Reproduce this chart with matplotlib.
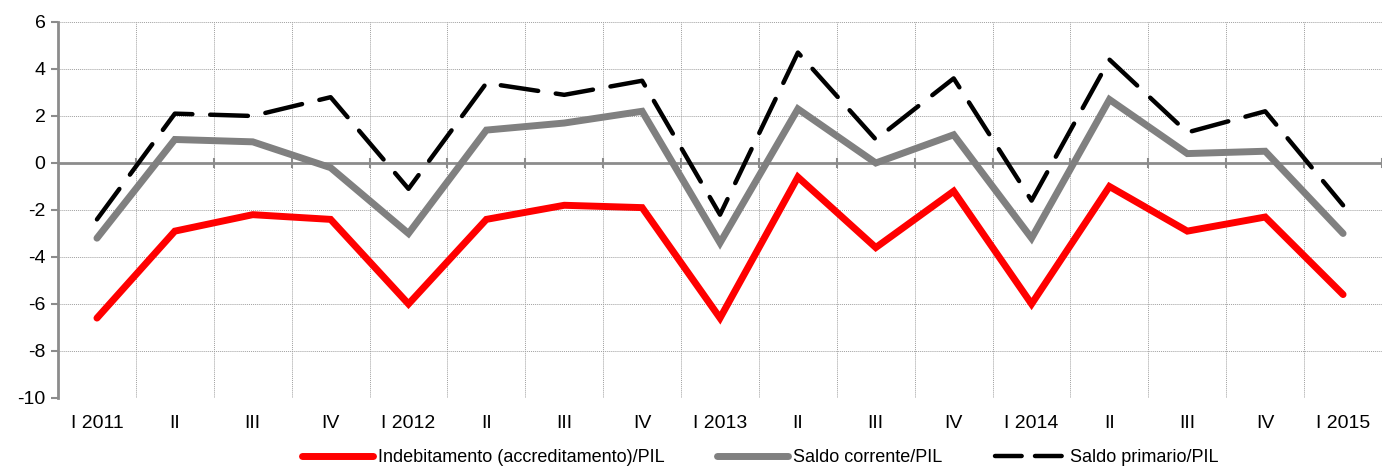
import matplotlib
matplotlib.use("Agg")
import matplotlib.pyplot as plt
from matplotlib.lines import Line2D

# ── Data ────────────────────────────────────────────────────────────────
quarters = ["I 2011", "II", "III", "IV", "I 2012", "II", "III", "IV",
            "I 2013", "II", "III", "IV", "I 2014", "II", "III", "IV", "I 2015"]

indebitamento = [-6.6, -2.9, -2.2, -2.4, -6.0, -2.4, -1.8, -1.9,
                 -6.6, -0.6, -3.6, -1.2, -6.0, -1.0, -2.9, -2.3, -5.6]
saldo_corrente = [-3.2, 1.0, 0.9, -0.2, -3.0, 1.4, 1.7, 2.2,
                  -3.4, 2.3, 0.0, 1.2, -3.2, 2.7, 0.4, 0.5, -3.0]
saldo_primario = [-2.4, 2.1, 2.0, 2.8, -1.1, 3.4, 2.9, 3.5,
                  -2.2, 4.7, 1.0, 3.6, -1.6, 4.4, 1.3, 2.2, -1.8]

series_labels = ["Indebitamento (accreditamento)/PIL",
                 "Saldo corrente/PIL",
                 "Saldo primario/PIL"]

# ── Style ───────────────────────────────────────────────────────────────
plt.rcParams["font.family"] = ["Liberation Sans Narrow", "Liberation Sans", "DejaVu Sans"]
plt.rcParams["axes.unicode_minus"] = False
AXIS_GREY = "#8c8c8c"
GRID_GREY = "#a0a0a0"

fig = plt.figure(figsize=(13.88, 4.66), dpi=100)
ax = fig.add_axes([0.0418, 0.146, 0.9539, 0.8068])

x = list(range(len(quarters)))
ax.plot(x, indebitamento, color="#ff0000", lw=5.0, solid_capstyle="round",
        solid_joinstyle="miter", zorder=4, label=series_labels[0])
ax.plot(x, saldo_corrente, color="#808080", lw=5.0, solid_capstyle="round",
        solid_joinstyle="miter", zorder=3, label=series_labels[1])
ax.plot(x, saldo_primario, color="black", lw=3.2, dashes=(8.5, 4),
        dash_capstyle="round", zorder=5, label=series_labels[2])

ax.set_xlim(-0.5, len(quarters) - 0.5)
ax.set_ylim(-10, 6)
ax.set_yticks(range(-10, 7, 2))

# grid: dotted, horizontal at each tick, vertical at category boundaries
for yv in range(-10, 7, 2):
    ax.axhline(yv, color=GRID_GREY, lw=0.7, ls=(0, (1, 1)), zorder=1)
for xb in range(len(quarters) + 1):
    ax.axvline(xb - 0.5, color=GRID_GREY, lw=0.7, ls=(0, (1, 1)), zorder=1)

# zero axis line with category tick marks
ax.axhline(0, color=AXIS_GREY, lw=2.0, zorder=2)
for xb in range(1, len(quarters) + 1):
    ax.plot([xb - 0.5, xb - 0.5], [-0.15, 0.15], color=AXIS_GREY, lw=1.5, zorder=2)

for side in ["top", "right", "bottom"]:
    ax.spines[side].set_visible(False)
ax.spines["left"].set_color(AXIS_GREY)
ax.spines["left"].set_linewidth(2.0)

ax.set_xticks(x)
ax.set_xticklabels(quarters)
ax.tick_params(axis="x", length=0, pad=12, labelsize=14)
ax.tick_params(axis="y", length=5, width=1.5, color=AXIS_GREY, labelsize=14, pad=4)

handles = [
    Line2D([0], [0], color="#ff0000", lw=5.0, solid_capstyle="round"),
    Line2D([0], [0], color="#808080", lw=5.0, solid_capstyle="round"),
    Line2D([0], [0], color="black", lw=3.2, dashes=(6, 3), dash_capstyle="round"),
]
fig.legend(handles, series_labels, loc="lower center", bbox_to_anchor=(0.548, -0.035),
           ncol=3, frameon=False, fontsize=13, handlelength=3.9,
           handletextpad=0.3, columnspacing=2.9)

fig.savefig("out.png", dpi=100)
